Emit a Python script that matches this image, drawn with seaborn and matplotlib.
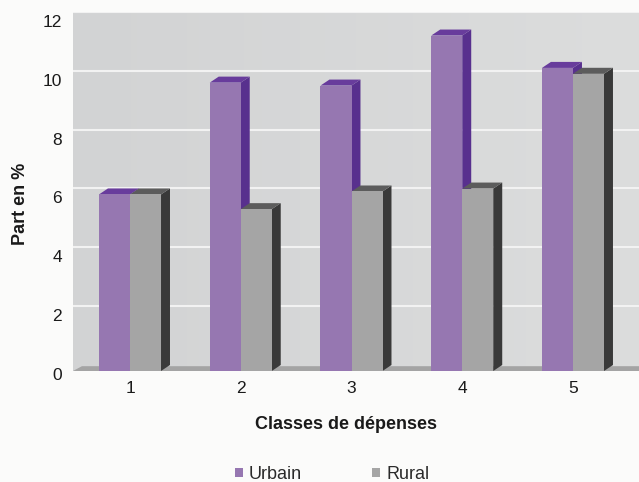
import matplotlib
matplotlib.use("Agg")
import matplotlib.pyplot as plt
import matplotlib.transforms as mtrans
import seaborn as sns
import pandas as pd
import numpy as np
from matplotlib.patches import Polygon, Rectangle

categories = ["1", "2", "3", "4", "5"]
urbain = [6.0, 9.8, 9.7, 11.4, 10.3]
rural = [6.0, 5.5, 6.1, 6.2, 10.1]
series = ["Urbain", "Rural"]
yticks = [0, 2, 4, 6, 8, 10, 12]

df = pd.DataFrame({
    "cat": categories * 2,
    "val": urbain + rural,
    "serie": [series[0]] * 5 + [series[1]] * 5,
})

sns.set_theme(style="white")
plt.rcParams['font.family'] = ['Liberation Sans', 'DejaVu Sans']

fig = plt.figure(figsize=(6.39, 4.82), dpi=100)
fig.patch.set_facecolor("#fbfbfa")
ax = fig.add_axes([0.1142, 0.2303, 0.8858, 0.7448])

front = {"Urbain": "#9677b1", "Rural": "#a5a5a5"}
side = {"Urbain": "#58308e", "Rural": "#393939"}
top = {"Urbain": "#683c9c", "Rural": "#5c5c5c"}

sns.barplot(data=df, x="cat", y="val", hue="serie", hue_order=series,
            palette=front, width=0.56, saturation=1, ax=ax, legend=False,
            edgecolor="none", zorder=3)

XL = (-0.515, 4.596)
YL = (0, 12.2)
dx, dy = 0.081, 0.204

# back wall
ax.set_facecolor("#d6d7d8")
grad = np.linspace(0, 1, 256).reshape(1, -1)
ax.imshow(grad, extent=(XL[0], XL[1], 0, YL[1]), aspect="auto",
          cmap=matplotlib.colors.LinearSegmentedColormap.from_list(
              "g", ["#d2d3d4", "#dcdddd"]), zorder=0)
for t in yticks[1:]:
    ax.axhline(t + dy, color="#f2f2f2", lw=1.5, zorder=1)
ax.add_patch(Polygon([(XL[0], 0), (XL[0] + dx, dy * 0.8), (XL[1] + 1, dy * 0.8), (XL[1] + 1, 0)],
                     closed=True, facecolor="#a4a4a4", edgecolor="none", zorder=1.5))

for i, p in enumerate(ax.patches[:10]):
    if not isinstance(p, Rectangle) or p.get_height() <= 0:
        continue
    h = p.get_height()
    x0 = p.get_x()
    w = p.get_width()
    name = series[0] if i < 5 else series[1]
    z = 2.2 if name == "Urbain" else 3.2
    p.set_zorder(3 if name == "Urbain" else 4)
    ax.add_patch(Polygon([(x0 + w, 0), (x0 + w + dx, dy), (x0 + w + dx, h + dy), (x0 + w, h)],
                         closed=True, facecolor=side[name], edgecolor="none", zorder=z))
    ax.add_patch(Polygon([(x0, h), (x0 + dx, h + dy), (x0 + w + dx, h + dy), (x0 + w, h)],
                         closed=True, facecolor=top[name], edgecolor="none", zorder=z))

ax.set_xlim(*XL)
ax.set_ylim(*YL)
ax.set_yticks(yticks)
ax.set_yticklabels([str(t) for t in yticks])
ax.tick_params(axis="both", length=0, labelsize=12.5, colors="#1a1a1a")
ax.tick_params(axis="x", pad=7)
ax.tick_params(axis="y", pad=8)
off = mtrans.ScaledTranslation(0, -3 / 100, fig.dpi_scale_trans)
for lab in ax.get_yticklabels():
    lab.set_transform(lab.get_transform() + off)
for s in ax.spines.values():
    s.set_visible(False)

ax.set_xlabel("Classes de dépenses", fontsize=13, fontweight="bold", color="#1a1a1a")
ax.xaxis.set_label_coords(0.482, -0.150)
ax.xaxis.label.set_va("center")
ax.set_ylabel("Part en %", fontsize=13, fontweight="bold", color="#1a1a1a")
ax.yaxis.set_label_coords(-0.093, 0.465)
ax.yaxis.label.set_va("center")

handles = [Rectangle((0, 0), 1, 1, facecolor=front[s], edgecolor="none") for s in series]
fig.legend(handles, series, loc="center", bbox_to_anchor=(0.52, 0.016), ncol=2,
           frameon=False, fontsize=13, handlelength=0.42, handleheight=0.42,
           columnspacing=3.9, handletextpad=0.35, labelcolor="#2a2a2a",
           borderaxespad=0, borderpad=0)

fig.savefig("out.png", dpi=100, facecolor=fig.get_facecolor())
